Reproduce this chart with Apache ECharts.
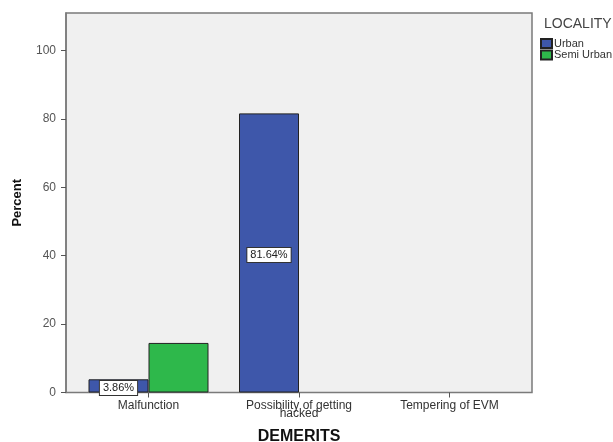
<!DOCTYPE html>
<html>
<head>
<meta charset="utf-8">
<script src="https://cdn.jsdelivr.net/npm/echarts@6/dist/echarts.min.js"></script>
<style>html,body{margin:0;padding:0;background:#fff;}#c{width:613px;height:442px;}</style>
</head>
<body>
<div id="c"></div>
<script>
var categories = ['Malfunction', 'Possibility of getting\nhacked', 'Tempering of EVM'];
var urban = [3.86, 81.64, 0];
var semiUrban = [14.5, 0, 0];
var seriesNames = ['Urban', 'Semi Urban'];
var yTicks = [0, 20, 40, 60, 80, 100];

function noZero(arr) { return arr.map(function (v) { return v > 0 ? v : '-'; }); }

var FONT = 'Liberation Sans, Arial, sans-serif';
var chart = echarts.init(document.getElementById('c'), null, {renderer: 'canvas'});
var yMax = 111;
chart.setOption({
  backgroundColor: '#ffffff',
  animation: false,
  title: {
    text: 'LOCALITY', left: 539, top: 12,
    textStyle: {fontFamily: FONT, fontSize: 14, fontWeight: 'normal', color: '#444'}
  },
  legend: {
    data: seriesNames, orient: 'vertical', left: 535, top: 33,
    itemWidth: 11, itemHeight: 9, itemGap: 0.5, icon: 'rect',
    textStyle: {fontFamily: FONT, fontSize: 11, color: '#333', lineHeight: 11, padding: [0, 0, 0, -3]}
  },
  grid: [
    {left: 66, right: 81, top: 13, bottom: 49.5, outerBoundsMode: 'none', containLabel: false,
      show: true, backgroundColor: '#f0f0f0', borderColor: '#7a7a7a', borderWidth: 1.5},
    {left: 73.25, right: 88.25, top: 13, bottom: 49.5, outerBoundsMode: 'none', containLabel: false}
  ],
  xAxis: [
    {gridIndex: 0, type: 'category', data: categories, show: false},
    {gridIndex: 1, type: 'category', data: categories,
      name: 'DEMERITS', nameLocation: 'middle', nameGap: 36,
      nameTextStyle: {fontFamily: FONT, fontSize: 16, fontWeight: 'bold', color: '#111'},
      axisLine: {show: false, onZero: false},
      axisTick: {show: true, alignWithLabel: true, length: 5, lineStyle: {color: '#555'}},
      axisLabel: {fontFamily: FONT, fontSize: 12, color: '#333', margin: 9, lineHeight: 8}
    }
  ],
  yAxis: [
    {gridIndex: 0, type: 'value', min: 0, max: yMax, interval: 20,
      name: 'Percent', nameLocation: 'middle', nameGap: 42,
      nameTextStyle: {fontFamily: FONT, fontSize: 13, fontWeight: 'bold', color: '#111'},
      axisLine: {show: true, lineStyle: {color: '#7a7a7a', width: 1.5}},
      axisTick: {show: true, length: 5, customValues: yTicks, lineStyle: {color: '#555'}},
      splitLine: {show: false},
      axisLabel: {fontFamily: FONT, fontSize: 12, color: '#555', margin: 10, customValues: yTicks}
    },
    {gridIndex: 1, type: 'value', min: 0, max: yMax, show: false, splitLine: {show: false}}
  ],
  series: [
    {name: seriesNames[0], type: 'bar', xAxisIndex: 1, yAxisIndex: 1, data: noZero(urban),
      barWidth: 60, barGap: '0%',
      itemStyle: {color: '#3e57aa', borderColor: '#222', borderWidth: 1},
      label: {show: true, position: 'inside', offset: [0, 2], fontFamily: FONT, fontSize: 11, color: '#222',
        backgroundColor: '#fff', borderColor: '#333', borderWidth: 1, padding: [2, 3, 1, 3],
        formatter: function (p) { return Number(p.value).toFixed(2) + '%'; }}
    },
    {name: seriesNames[1], type: 'bar', xAxisIndex: 1, yAxisIndex: 1, data: noZero(semiUrban),
      barWidth: 60, barGap: '0%',
      itemStyle: {color: '#2eb84b', borderColor: '#222', borderWidth: 1}
    }
  ]
});
</script>
</body>
</html>
